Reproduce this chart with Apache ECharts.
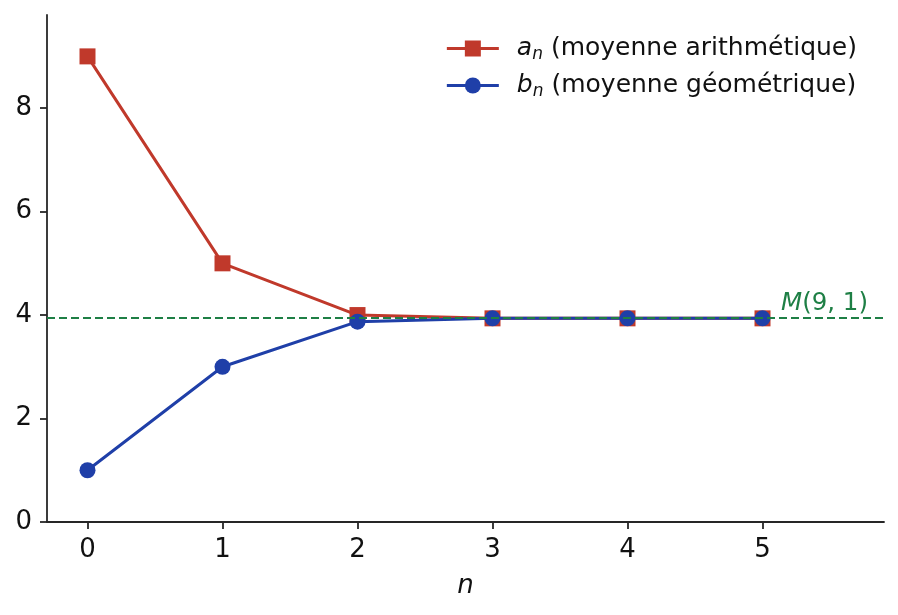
<!DOCTYPE html>
<html>
<head>
<meta charset="utf-8">
<script src="https://cdn.jsdelivr.net/npm/echarts@6/dist/echarts.min.js"></script>
<style>
  html, body { margin: 0; padding: 0; background: #fff; }
  #chart { width: 898px; height: 615px; }
</style>
</head>
<body>
<div id="chart"></div>
<script>
// AGM de 9 et 1
var steps = [0, 1, 2, 3, 4, 5];
var arith = [9, 5, 4, 3.9365, 3.9365, 3.9365];
var geom = [1, 3, 3.873, 3.9364, 3.9365, 3.9365];
var agmLimit = 3.9365;
var xTicks = [0, 1, 2, 3, 4, 5];
var yTicks = [0, 2, 4, 6, 8];

var font = 'DejaVu Sans';
var axisColor = '#262626';
var textColor = '#111';

function pairs(xs, ys) {
    return xs.map(function(x, i) { return [x, ys[i]]; });
}

var myChart = echarts.init(document.getElementById('chart'));

var option = {
    animation: false,
    textStyle: { fontFamily: font },
    grid: { left: 47, right: 14, top: 15, bottom: 93 },
    legend: {
        orient: 'vertical',
        right: 36,
        top: 31,
        itemWidth: 52,
        itemHeight: 20,
        itemGap: 10,
        lineStyle: { width: 3 },
        textStyle: {
            fontFamily: font,
            fontSize: 25,
            color: textColor,
            rich: {
                i: { fontFamily: font, fontStyle: 'italic', fontSize: 25, color: textColor, padding: [0, 0, 0, 13] },
                s: { fontFamily: font, fontStyle: 'italic', fontSize: 17, color: textColor, padding: [12, 0, 0, 0] },
                t: { fontFamily: font, fontSize: 25, color: textColor }
            }
        },
        formatter: function(name) {
            if (name === 'a') return '{i|a}{s|n}{t| (moyenne arithmétique)}';
            return '{i|b}{s|n}{t| (moyenne géométrique)}';
        },
        data: ['a', 'b']
    },
    xAxis: {
        type: 'value',
        min: -0.3,
        max: 5.9,
        name: 'n',
        nameLocation: 'middle',
        nameGap: 51,
        nameTextStyle: { fontFamily: font, fontStyle: 'italic', fontSize: 26, color: textColor },
        splitLine: { show: false },
        axisLine: { show: true, onZero: false, lineStyle: { color: axisColor, width: 1.8 } },
        axisTick: { show: true, length: 7, lineStyle: { color: axisColor, width: 1.8 }, customValues: xTicks },
        axisLabel: { fontSize: 26, color: textColor, margin: 15, customValues: xTicks }
    },
    yAxis: {
        type: 'value',
        min: 0,
        max: 9.8,
        splitLine: { show: false },
        axisLine: { show: true, onZero: false, lineStyle: { color: axisColor, width: 1.8 } },
        axisTick: { show: true, length: 7, lineStyle: { color: axisColor, width: 1.8 }, customValues: yTicks },
        axisLabel: { fontSize: 26, color: textColor, margin: 15, customValues: yTicks }
    },
    series: [
        {
            name: 'a',
            type: 'line',
            data: pairs(steps, arith),
            symbol: 'rect',
            symbolSize: 16,
            color: '#c0392b',
            lineStyle: { width: 3, color: '#c0392b' },
            itemStyle: { color: '#c0392b' },
            z: 2
        },
        {
            name: 'b',
            type: 'line',
            data: pairs(steps, geom),
            symbol: 'circle',
            symbolSize: 16,
            color: '#1f3fa8',
            lineStyle: { width: 3, color: '#1f3fa8' },
            itemStyle: { color: '#1f3fa8' },
            z: 3,
            markLine: {
                silent: true,
                symbol: 'none',
                z: 4,
                lineStyle: { type: [8, 4], color: '#1e7f45', width: 2.2 },
                label: {
                    position: 'insideEndTop',
                    distance: [16, 2],
                    formatter: '{m|M}{p|(9, 1)}',
                    rich: {
                        m: { fontFamily: font, fontStyle: 'italic', fontSize: 24.5, color: '#1e7f45' },
                        p: { fontFamily: font, fontSize: 24.5, color: '#1e7f45' }
                    }
                },
                data: [{ yAxis: agmLimit }]
            }
        }
    ]
};

myChart.setOption(option);
</script>
</body>
</html>
